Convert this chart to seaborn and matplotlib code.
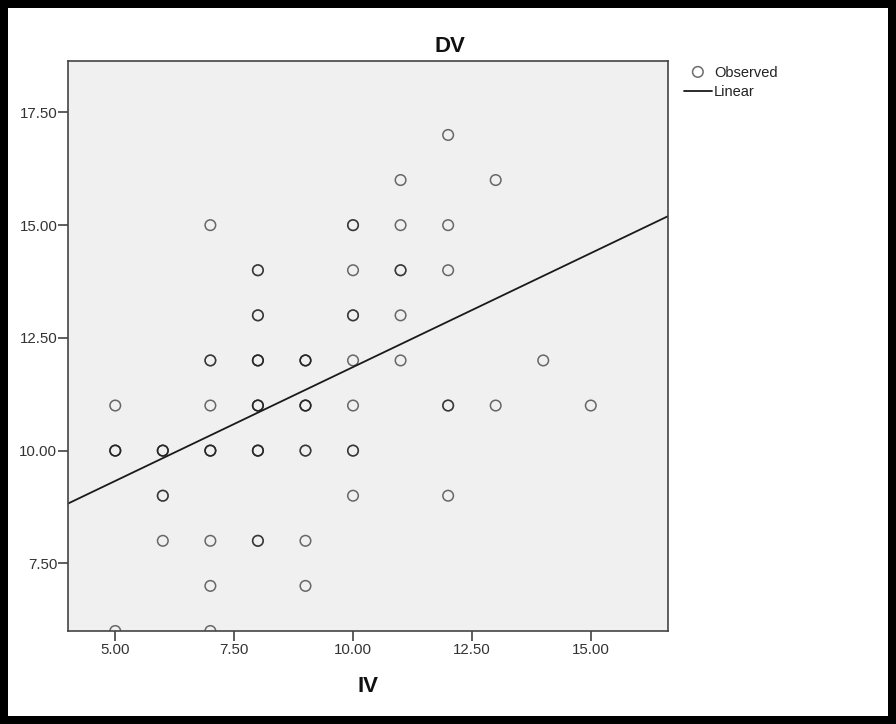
import numpy as np
import pandas as pd
import matplotlib
matplotlib.use("Agg")
import matplotlib.pyplot as plt
from matplotlib.patches import Rectangle
import seaborn as sns

# Observed (IV, DV) pairs and how many cases sit on each point
iv = [5, 5, 5,
      6, 6, 6,
      7, 7, 7, 7, 7, 7, 7,
      8, 8, 8, 8, 8, 8,
      9, 9, 9, 9, 9,
      10, 10, 10, 10, 10, 10, 10,
      11, 11, 11, 11, 11,
      12, 12, 12, 12, 12,
      13, 13,
      14,
      15]
dv = [11, 10, 6,
      10, 9, 8,
      15, 12, 11, 10, 8, 7, 6,
      14, 13, 12, 11, 10, 8,
      12, 11, 10, 8, 7,
      15, 14, 13, 12, 11, 10, 9,
      16, 15, 14, 13, 12,
      17, 15, 14, 11, 9,
      16, 11,
      12,
      11]
count = [1, 3, 1,
         3, 2, 1,
         1, 2, 1, 3, 1, 1, 1,
         2, 2, 3, 3, 3, 2,
         3, 3, 2, 1, 1,
         2, 1, 2, 1, 1, 2, 1,
         1, 1, 2, 1, 1,
         1, 1, 1, 2, 1,
         1, 1,
         1,
         1]

x_ticks = [5.0, 7.5, 10.0, 12.5, 15.0]
y_ticks = [7.5, 10.0, 12.5, 15.0, 17.5]

df = pd.DataFrame({"IV": np.repeat(iv, count), "DV": np.repeat(dv, count)})

sns.set_style("white")
plt.rcParams["font.family"] = ["Liberation Sans", "DejaVu Sans"]

W, H = 896, 724
fig = plt.figure(figsize=(W / 100, H / 100), dpi=100)
fig.patch.set_facecolor("black")
b = 8
fig.patches.append(Rectangle((b / W, b / H), (W - 2 * b) / W, (H - 2 * b) / H,
                             transform=fig.transFigure, facecolor="white",
                             edgecolor="none", zorder=-5))

left, right, top, bottom = 67.7, 668.3, 61, 631
ax = fig.add_axes([left / W, (H - bottom) / H, (right - left) / W, (bottom - top) / H])
ax.set_facecolor("#f0f0f0")
ax.set_xlim(4.0, 16.63)
ax.set_ylim(6.0, 18.64)

sns.regplot(data=df, x="IV", y="DV", ax=ax, ci=None, truncate=False,
            scatter_kws=dict(s=58, facecolors="none", edgecolors="#1e1e1e",
                             linewidths=1.1, alpha=0.65),
            line_kws=dict(color="#1a1a1a", lw=1.3, label="Linear"))
ax.collections[0].set_label("Observed")

ax.set_xlim(4.0, 16.63)
ax.set_ylim(6.0, 18.64)
ax.set_xticks(x_ticks)
ax.set_yticks(y_ticks)
ax.set_xticklabels([f"{v:.2f}" for v in x_ticks])
ax.set_yticklabels([f"{v:.2f}" for v in y_ticks])
ax.tick_params(axis="both", direction="out", length=7, width=1.1, color="#333333",
               labelsize=10.8, labelcolor="#333333")
ax.tick_params(axis="x", pad=2, bottom=True)
ax.tick_params(axis="y", pad=0.5, left=True)
for sp in ax.spines.values():
    sp.set_visible(True)
    sp.set_color("#444444")
    sp.set_linewidth(1.2)

ax.set_xlabel("")
ax.set_ylabel("")
fig.text((left + right) / 2 / W, 1 - 692 / H, "IV", ha="center", va="baseline",
         fontsize=16, fontweight="bold", color="#111111")
fig.text(449.5 / W, 1 - 52 / H, "DV", ha="center", va="baseline",
         fontsize=16, fontweight="bold", color="#111111")

handles = [ax.collections[0], ax.lines[0]]
labels = ["Observed", "Linear"]
fig.legend(handles, labels, loc="upper left", bbox_to_anchor=(684 / W, 1 - 66 / H),
           frameon=False, fontsize=10.5, handlelength=1.9, handletextpad=0.15,
           labelspacing=0.35, borderpad=0, borderaxespad=0, labelcolor="#222222",
           scatterpoints=1, scatteryoffsets=[0.5])

fig.savefig("out.png", dpi=100, facecolor=fig.get_facecolor())
